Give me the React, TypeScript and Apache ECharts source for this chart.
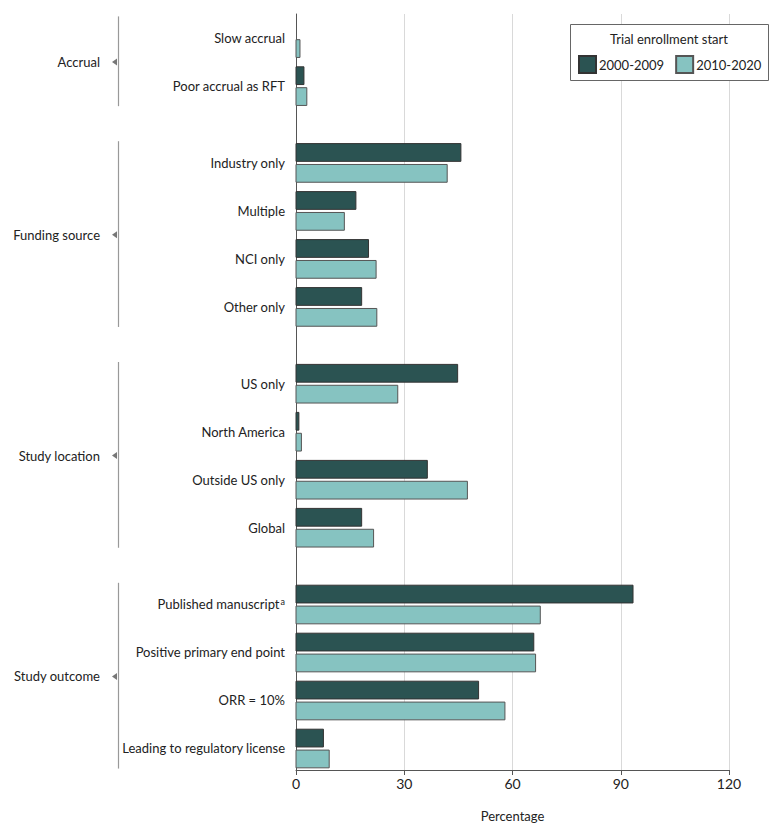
import React, { useEffect, useRef } from "react";
import * as echarts from "echarts";

// ---------- data ----------
const groups = ["Accrual", "Funding source", "Study location", "Study outcome"];
const groupSizes = [2, 4, 4, 4];
const categories = [
  "Slow accrual",
  "Poor accrual as RFT",
  "Industry only",
  "Multiple",
  "NCI only",
  "Other only",
  "US only",
  "North America",
  "Outside US only",
  "Global",
  "Published manuscript",
  "Positive primary end point",
  "ORR = 10%",
  "Leading to regulatory license",
];
const footnotes = ["", "", "", "", "", "", "", "", "", "", "a", "", "", ""];
const seriesNames = ["2000-2009", "2010-2020"];
const values2000 = [0, 2.2, 45.7, 16.6, 20.1, 18.2, 44.8, 0.8, 36.4, 18.2, 93.4, 65.9, 50.6, 7.6];
const values2010 = [1.1, 3.0, 41.9, 13.4, 22.2, 22.4, 28.2, 1.5, 47.5, 21.5, 67.7, 66.4, 57.9, 9.2];
const xTicks = [0, 30, 60, 90, 120];
const legendTitle = "Trial enrollment start";
const xAxisTitle = "Percentage";

// ---------- layout ----------
const FONT = "Lato, 'Noto Sans', sans-serif";
const FS = 13;
const TEXT = "#222";
const DARK = "#2b5352";
const LIGHT = "#86c3c1";
const GROUP_GAP = 0.6;
const BAR_H = 0.37;

const rowPos: number[] = [];
const groupRange: number[][] = [];
{
  let p = 0;
  groupSizes.forEach((n) => {
    const start = p;
    for (let i = 0; i < n; i++) {
      rowPos.push(p);
      p += 1;
    }
    groupRange.push([start, p - 1]);
    p += GROUP_GAP;
  });
}

function barSeries(name: string, values: number[], off: number, fill: string, stroke: string) {
  return {
    type: "custom",
    name,
    itemStyle: { color: fill, borderColor: stroke, borderWidth: 1 },
    encode: { x: 0, y: 1 },
    data: values.map((v, i) => [v, rowPos[i]]),
    renderItem: (_params: any, api: any) => {
      const v = api.value(0);
      const pos = api.value(1);
      if (!(v > 0)) return null;
      const a = api.coord([0, pos + off]);
      const b = api.coord([v, pos + off + BAR_H]);
      return {
        type: "rect",
        shape: { x: a[0], y: a[1], width: b[0] - a[0], height: b[1] - a[1] },
        style: { fill, stroke, lineWidth: 1 },
      };
    },
  };
}

export default function App() {
  const ref = useRef<HTMLDivElement>(null);
  useEffect(() => {
    document.body.style.margin = "0";
    if (!ref.current) return;
    const chart = echarts.init(ref.current, undefined, { renderer: "svg" });
    const option: any = {
      animation: false,
      backgroundColor: "#fff",
      textStyle: { fontFamily: FONT },
      grid: { left: 296, right: 51, top: 14, height: 756 },
      legend: {
        data: seriesNames,
        orient: "horizontal",
        left: 578,
        top: 55,
        width: 200,
        padding: 0,
        itemWidth: 17,
        itemHeight: 17,
        itemGap: 11,
        icon: "rect",
        z: 20,
        textStyle: { fontFamily: FONT, fontSize: 13, color: TEXT, padding: [0, 0, 0, -2] },
      },
      graphic: [
        {
          type: "rect",
          z: 10,
          shape: { x: 570.5, y: 24.5, width: 198, height: 56 },
          style: { fill: "#fff", stroke: "#666", lineWidth: 1 },
        },
        {
          type: "text",
          z: 11,
          x: 669,
          y: 39,
          style: {
            text: legendTitle,
            fontFamily: FONT,
            fontSize: FS,
            fill: TEXT,
            textAlign: "center",
            textVerticalAlign: "middle",
            align: "center",
            verticalAlign: "middle",
          },
        },
      ],
      xAxis: {
        type: "value",
        min: xTicks[0],
        max: xTicks[xTicks.length - 1],
        interval: xTicks[1] - xTicks[0],
        name: xAxisTitle,
        nameLocation: "middle",
        nameGap: 39,
        nameTextStyle: { fontFamily: FONT, fontSize: FS, color: TEXT },
        axisLine: { show: true, onZero: false, lineStyle: { color: "#555" } },
        axisTick: { show: true, length: 5, lineStyle: { color: "#555" } },
        axisLabel: { fontFamily: FONT, fontSize: 14, color: TEXT, margin: 6 },
        splitLine: { show: true, lineStyle: { color: "#d9d9d9" } },
      },
      yAxis: {
        type: "value",
        inverse: true,
        min: -0.5,
        max: 15.25,
        axisLine: { show: true, onZero: false, lineStyle: { color: "#555" } },
        axisTick: { show: false },
        axisLabel: { show: false },
        splitLine: { show: false },
      },
      series: [
        barSeries(seriesNames[0], values2000, -0.4, DARK, "#333"),
        barSeries(seriesNames[1], values2010, 0.035, LIGHT, "#555"),
        {
          type: "custom",
          name: "labels",
          silent: true,
          encode: { x: 0, y: 1 },
          data: rowPos.map((p) => [0, p]),
          renderItem: (params: any, api: any) => {
            const i = params.dataIndex;
            const c = api.coord([0, api.value(1)]);
            const note = footnotes[i];
            return {
              type: "text",
              x: c[0] - 11,
              y: c[1],
              style: {
                text: note ? `${categories[i]}{sup|${note}}` : categories[i],
                fontFamily: FONT,
                fontSize: FS,
                fill: TEXT,
                textAlign: "right",
                textVerticalAlign: "middle",
                align: "right",
                verticalAlign: "middle",
                rich: {
                  sup: { fontFamily: FONT, fontSize: 9, fill: TEXT, verticalAlign: "top", padding: [0, 0, 6, 1] },
                },
              },
            };
          },
        },
        {
          type: "custom",
          name: "groups",
          silent: true,
          encode: { x: 0, y: [1, 2] },
          data: groupRange.map(([s, e]) => [0, s, e]),
          renderItem: (params: any, api: any) => {
            const i = params.dataIndex;
            const s = api.value(1);
            const e = api.value(2);
            const top = api.coord([0, s - 0.45])[1];
            const bot = api.coord([0, e + 0.42])[1];
            const mid = api.coord([0, (s + e) / 2])[1];
            const lx = 118.5;
            return {
              type: "group",
              children: [
                {
                  type: "line",
                  shape: { x1: lx, y1: top, x2: lx, y2: bot },
                  style: { stroke: "#999", lineWidth: 1.2 },
                },
                {
                  type: "polygon",
                  shape: { points: [[112, mid], [117, mid - 3.5], [117, mid + 3.5]] },
                  style: { fill: "#777" },
                },
                {
                  type: "text",
                  x: 100,
                  y: mid,
                  style: {
                    text: groups[i],
                    fontFamily: FONT,
                    fontSize: FS,
                    fill: TEXT,
                    textAlign: "right",
                    textVerticalAlign: "middle",
                    align: "right",
                    verticalAlign: "middle",
                  },
                },
              ],
            };
          },
        },
      ],
    };
    chart.setOption(option);
    return () => chart.dispose();
  }, []);
  return <div ref={ref} style={{ width: 780, height: 829 }} />;
}
